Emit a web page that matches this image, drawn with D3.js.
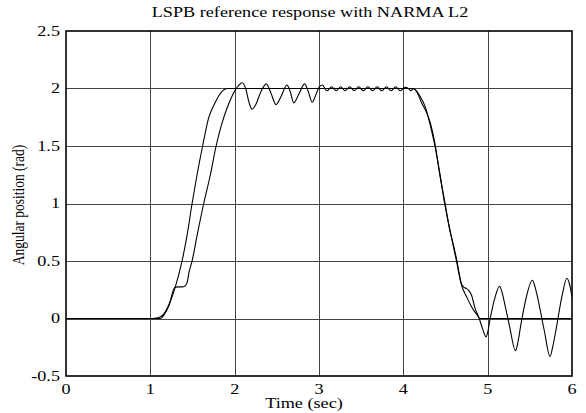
<!DOCTYPE html>
<html><head><meta charset="utf-8">
<script src="https://cdn.jsdelivr.net/npm/d3@7"></script>
<style>html,body{margin:0;padding:0;background:#fff;} svg{display:block;}</style>
</head><body><svg id="c" width="586" height="413"></svg>
<script>
const titleText = "LSPB reference response with NARMA L2";
const xLabel = "Time (sec)";
const yLabel = "Angular position (rad)";
const xTicks = [0, 1, 2, 3, 4, 5, 6];
const yTicks = [-0.5, 0, 0.5, 1, 1.5, 2, 2.5];

// LSPB reference trajectory
const refT = [0, 1.0, 1.05, 1.10, 1.16, 1.22, 1.29, 1.336, 1.376, 1.435, 1.495, 1.554, 1.62, 1.69, 1.77, 1.85, 1.91, 4.10, 4.14, 4.20, 4.26, 4.32, 4.375, 4.43, 4.49, 4.55, 4.63, 4.69, 4.75, 4.81, 4.87, 4.91, 6.0];
const refY = [0, 0, 0.002, 0.008, 0.04, 0.12, 0.26, 0.38, 0.5, 0.72, 1.0, 1.25, 1.5, 1.74, 1.88, 1.975, 2.0, 2.0, 1.99, 1.93, 1.84, 1.68, 1.5, 1.275, 1.0, 0.78, 0.5, 0.29, 0.19, 0.1, 0.035, 0, 0];

// NARMA-L2 controlled response
const narT = [0, 1.0, 1.12, 1.16, 1.22, 1.29, 1.33, 1.38, 1.407, 1.435, 1.46, 1.495, 1.554, 1.633, 1.712, 1.78, 1.842, 1.91, 1.96, 2.01, 2.05, 2.09, 2.13, 2.17, 2.205, 2.25, 2.31, 2.375, 2.43, 2.49, 2.55, 2.62, 2.66, 2.70, 2.76, 2.83, 2.87, 2.92, 2.96, 3.0, 3.04, 3.093, 3.15, 3.204, 3.257, 3.31, 3.364, 3.417, 3.47, 3.528, 3.58, 3.635, 3.69, 3.746, 3.80, 3.853, 3.91, 3.963, 4.02, 4.06, 4.09, 4.12, 4.16, 4.22, 4.27, 4.32, 4.375, 4.43, 4.49, 4.55, 4.60, 4.63, 4.69, 4.72, 4.75, 4.78, 4.81, 4.85, 4.90, 4.94, 4.98, 5.00, 5.03, 5.09, 5.14, 5.17, 5.21, 5.26, 5.33, 5.36, 5.39, 5.45, 5.53, 5.56, 5.59, 5.67, 5.74, 5.77, 5.81, 5.88, 5.94, 5.97, 6.0];
const narY = [0, 0, 0.0, 0.03, 0.11, 0.27, 0.275, 0.275, 0.28, 0.31, 0.405, 0.5, 0.72, 1.0, 1.25, 1.5, 1.68, 1.83, 1.92, 1.99, 2.03, 2.05, 2.0, 1.88, 1.82, 1.86, 1.97, 2.04, 1.96, 1.86, 1.93, 2.03, 1.97, 1.875, 1.95, 2.04, 1.98, 1.88, 1.94, 2.01, 2.03, 1.98, 2.015, 1.98, 2.015, 1.98, 2.015, 1.98, 2.015, 1.98, 2.015, 1.98, 2.015, 1.98, 2.015, 1.98, 2.015, 1.98, 2.01, 2.0, 1.98, 2.0, 1.97, 1.87, 1.80, 1.70, 1.52, 1.26, 1.02, 0.77, 0.62, 0.52, 0.30, 0.27, 0.26, 0.24, 0.20, 0.09, 0.0, -0.09, -0.16, -0.12, 0.0, 0.19, 0.28, 0.23, 0.1, -0.07, -0.28, -0.2, -0.07, 0.16, 0.333, 0.28, 0.19, -0.10, -0.33, -0.25, -0.1, 0.19, 0.35, 0.3, 0.19];

const L = 66, R = 572, T = 31, B = 376;
const SX = 1.3;
const svg = d3.select("#c");
const x = d3.scaleLinear().domain([0, 6]).range([L, R]);
const y = d3.scaleLinear().domain([-0.5, 2.5]).range([B, T]);
const font = "'Liberation Serif','Times New Roman',serif";

// grid
const g = svg.append("g");
g.selectAll(".gx").data(xTicks.slice(1, -1)).enter().append("line")
  .attr("x1", d => Math.round(x(d)) + 0.5).attr("x2", d => Math.round(x(d)) + 0.5)
  .attr("y1", T).attr("y2", B).attr("stroke", "#444").attr("stroke-width", 1);
g.selectAll(".gy").data(yTicks.slice(1, -1)).enter().append("line")
  .attr("y1", d => Math.round(y(d)) + 0.5).attr("y2", d => Math.round(y(d)) + 0.5)
  .attr("x1", L).attr("x2", R).attr("stroke", "#444").attr("stroke-width", 1);

// lines
const line = d3.line().x(d => x(d[0])).y(d => y(d[1])).curve(d3.curveMonotoneX);
svg.append("path").datum(refT.map((t, i) => [t, refY[i]])).attr("d", line)
  .attr("fill", "none").attr("stroke", "#000").attr("stroke-width", 1.1);
svg.append("path").datum(narT.map((t, i) => [t, narY[i]])).attr("d", line)
  .attr("fill", "none").attr("stroke", "#000").attr("stroke-width", 1.1);

// frame
svg.append("rect").attr("x", L).attr("y", T).attr("width", R - L).attr("height", B - T)
  .attr("fill", "none").attr("stroke", "#000").attr("stroke-width", 1.6);

// tick labels
svg.selectAll(".xt").data(xTicks).enter().append("text")
  .attr("transform", d => `translate(${x(d)},394) scale(${SX},1)`)
  .attr("text-anchor", "middle").attr("font-family", font).attr("font-size", 14).text(d => d);
svg.selectAll(".yt").data(yTicks).enter().append("text")
  .attr("transform", d => `translate(60,${y(d) + 4.5}) scale(${SX},1)`)
  .attr("text-anchor", "end").attr("font-family", font).attr("font-size", 14).text(d => d);

svg.append("text").attr("transform", `translate(310,17) scale(${SX},1)`)
  .attr("text-anchor", "middle").attr("font-family", font).attr("font-size", 14).text(titleText);
svg.append("text").attr("transform", `translate(${(L + R) / 2 - 15},408) scale(${SX},1)`)
  .attr("text-anchor", "middle").attr("font-family", font).attr("font-size", 14).text(xLabel);
svg.append("text").attr("transform", `translate(24,205) scale(${SX},1) rotate(-90)`)
  .attr("text-anchor", "middle").attr("font-family", font).attr("font-size", 13.5).text(yLabel);
</script></body></html>
